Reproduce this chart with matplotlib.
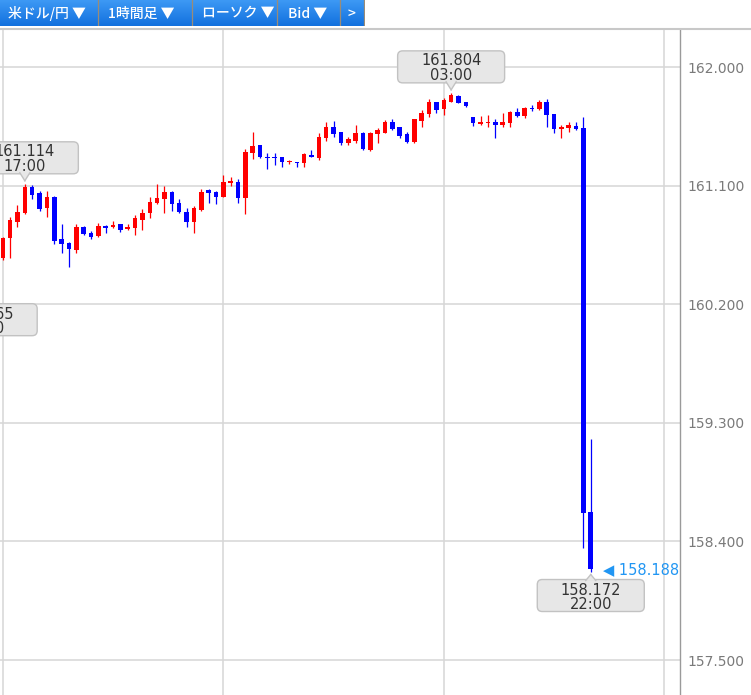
import numpy as np
import matplotlib.pyplot as plt
import matplotlib.transforms as mtransforms
from matplotlib.patches import FancyBboxPatch, Polygon
from matplotlib.lines import Line2D

plt.rcParams['font.family'] = ['DejaVu Sans']

# USD/JPY 1-hour candles (Bid), first candle = 14:00
opens = [160.549, 160.703, 160.826, 160.890, 161.090, 161.042, 160.928, 161.011, 160.693, 160.662,
         160.612, 160.788, 160.738, 160.720, 160.794, 160.788, 160.807, 160.769, 160.776, 160.839,
         160.890, 160.966, 160.996, 161.054, 160.966, 160.898, 160.826, 160.915, 161.067, 161.054,
         161.016, 161.118, 161.130, 161.004, 161.345, 161.405, 161.319, 161.320, 161.315, 161.277,
         161.281, 161.269, 161.335, 161.312, 161.459, 161.542, 161.507, 161.421, 161.441, 161.502,
         161.370, 161.492, 161.502, 161.580, 161.545, 161.492, 161.429, 161.593, 161.643, 161.732,
         161.679, 161.737, 161.780, 161.732, 161.621, 161.565, 161.573, 161.585, 161.560, 161.577,
         161.661, 161.628, 161.691, 161.681, 161.732, 161.641, 161.530, 161.535, 161.552, 161.535,
         158.626]
highs = [160.712, 160.864, 160.953, 161.114, 161.105, 161.059, 161.059, 161.021, 160.809, 160.675,
         160.809, 160.794, 160.756, 160.814, 160.801, 160.832, 160.809, 160.809, 160.877, 160.920,
         161.016, 161.110, 161.100, 161.059, 160.998, 160.932, 160.945, 161.072, 161.074, 161.056,
         161.181, 161.168, 161.150, 161.376, 161.505, 161.410, 161.345, 161.345, 161.318, 161.294,
         161.283, 161.345, 161.370, 161.502, 161.585, 161.590, 161.509, 161.471, 161.560, 161.509,
         161.507, 161.535, 161.598, 161.603, 161.547, 161.509, 161.605, 161.674, 161.755, 161.737,
         161.763, 161.804, 161.788, 161.737, 161.623, 161.628, 161.636, 161.603, 161.653, 161.666,
         161.687, 161.694, 161.712, 161.750, 161.757, 161.643, 161.560, 161.580, 161.585, 161.618,
         159.175]
lows = [160.536, 160.549, 160.784, 160.885, 160.998, 160.910, 160.860, 160.657, 160.586, 160.485,
        160.591, 160.725, 160.695, 160.712, 160.743, 160.776, 160.750, 160.763, 160.725, 160.763,
        160.857, 160.961, 160.895, 160.910, 160.895, 160.788, 160.738, 160.910, 160.970, 160.961,
        161.011, 161.097, 160.970, 160.885, 161.300, 161.312, 161.226, 161.256, 161.244, 161.264,
        161.244, 161.244, 161.317, 161.294, 161.441, 161.471, 161.408, 161.408, 161.421, 161.370,
        161.363, 161.421, 161.497, 161.522, 161.459, 161.426, 161.421, 161.547, 161.623, 161.649,
        161.636, 161.735, 161.725, 161.699, 161.552, 161.560, 161.547, 161.464, 161.547, 161.542,
        161.623, 161.611, 161.666, 161.674, 161.542, 161.502, 161.464, 161.509, 161.525, 158.348,
        158.172]
closes = [160.700, 160.839, 160.898, 161.092, 161.029, 160.923, 161.011, 160.682, 160.657, 160.617,
          160.784, 160.733, 160.712, 160.796, 160.776, 160.803, 160.763, 160.784, 160.852, 160.895,
          160.978, 161.004, 161.054, 160.958, 160.902, 160.826, 160.932, 161.054, 161.046, 161.016,
          161.130, 161.135, 161.004, 161.357, 161.403, 161.319, 161.307, 161.308, 161.277, 161.289,
          161.269, 161.338, 161.319, 161.471, 161.542, 161.492, 161.421, 161.454, 161.497, 161.376,
          161.502, 161.522, 161.585, 161.530, 161.479, 161.433, 161.603, 161.649, 161.737, 161.674,
          161.750, 161.788, 161.729, 161.704, 161.573, 161.585, 161.585, 161.560, 161.585, 161.661,
          161.628, 161.687, 161.679, 161.737, 161.636, 161.527, 161.547, 161.560, 161.527, 158.614,
          158.188]

yticks = [157.5, 158.4, 159.3, 160.2, 161.1, 162.0]
vgrid = [0, 30, 60, 90]

# high / low callouts (candle position, price, hour)
call_idx = [3, 61, 80, -2.6]
call_price = [161.114, 161.804, 158.172, 160.265]
call_time = ["17:00", "03:00", "22:00", "11:00"]
call_above = [True, True, False, False]

last_price = 158.188

menu_items = ["米ドル/円 ▼", "1時間足 ▼", "ローソク ▼", "Bid ▼", ">"]
menu_x = [8, 108, 202, 288, 347]
menu_sep = [98, 192, 277, 340, 364]

W, H = 751, 695
fig = plt.figure(figsize=(W / 100, H / 100), dpi=100)

# chart area
ax = fig.add_axes([0, 0, 680 / W, (H - 30) / H])
o = np.array(opens); c = np.array(closes)
x = np.arange(len(o))
cols = np.where(c >= o, '#ff0000', '#0000ff')
ax.vlines(x, lows, highs, colors=cols, lw=0.9, zorder=3)
bottom = np.minimum(o, c)
height = np.maximum(np.abs(c - o), 0.012)
ax.bar(x, height, bottom=bottom, width=0.62, color=cols, lw=0, zorder=4)

ax.set_xlim(-0.38, 92.14)
ax.set_ylim(157.235, 162.281)
ax.set_xticks(vgrid)
ax.set_xticklabels([])
ax.yaxis.tick_right()
ax.set_yticks(yticks)
ax.set_yticklabels([f"{v:.3f}" for v in yticks])
ax.tick_params(axis='y', length=0, pad=5.5, labelsize=10, labelcolor='#7a7a7a')
ax.tick_params(axis='x', length=0)
ax.grid(True, color='#d6d6d6', lw=1.1, zorder=0)
for s in ['left', 'top', 'bottom']:
    ax.spines[s].set_visible(False)
ax.spines['right'].set_color('#9a9a9a')
ax.spines['right'].set_linewidth(1.0)


def callout(xi, price, label, time, above):
    tr = mtransforms.Affine2D() + mtransforms.ScaledTranslation(xi, price, ax.transData)
    bw, bh = 107, 32
    if above:
        b0 = 10
        tri = [(-5, b0 + 1), (5, b0 + 1), (0, 3)]
        l1, l2 = b0 + bh - 10, b0 + bh - 25
    else:
        b0 = -8 - bh
        tri = [(-5, -9), (5, -9), (0, -3)]
        l1, l2 = -8 - 10.5, -8 - 24.5
    box = FancyBboxPatch((-bw / 2, b0), bw, bh, boxstyle='round,pad=0,rounding_size=5',
                         transform=tr, fc='#e7e7e7', ec='#c2c2c2', lw=1.0,
                         clip_on=False, zorder=6)
    ax.add_patch(box)
    ax.add_patch(Polygon(tri, closed=True, transform=tr, fc='#e7e7e7', ec='none',
                         clip_on=False, zorder=7))
    for p in (tri[0], tri[1]):
        ax.add_line(Line2D([p[0], tri[2][0]], [p[1], tri[2][1]], transform=tr,
                           color='#c2c2c2', lw=1.0, clip_on=False, zorder=7))
    ax.text(0, l1, label, transform=tr, ha='center', va='center', fontsize=10.5,
            color='#333333', zorder=8, clip_on=False)
    ax.text(0, l2, time, transform=tr, ha='center', va='center', fontsize=10.5,
            color='#333333', zorder=8, clip_on=False)


for xi, pr, tm, ab in zip(call_idx, call_price, call_time, call_above):
    callout(xi, pr, f"{pr:.3f}", tm, ab)

ax.annotate(f"◀ {last_price:.3f}", xy=(len(o) - 1, last_price), xytext=(12, 0),
            textcoords='offset pixels', ha='left', va='center', fontsize=10.5,
            color='#2196f3', annotation_clip=False, zorder=8)

# separator line under the menu bar
fig.add_artist(Line2D([0, 1], [1 - 29 / H, 1 - 29 / H], transform=fig.transFigure,
                      color='#c8c8c8', lw=1.5))

# menu bar
mb = fig.add_axes([0, 1 - 26 / H, 365 / W, 26 / H])
grad = np.linspace(0, 1, 50).reshape(-1, 1)
top_c = np.array([0.24, 0.60, 0.96])
bot_c = np.array([0.07, 0.44, 0.87])
img = top_c + (bot_c - top_c) * grad[:, :, None]
mb.imshow(img, extent=[0, 365, 26, 0], aspect='auto')
mb.set_xlim(0, 365)
mb.set_ylim(26, 0)
mb.axis('off')
for sx in menu_sep:
    mb.axvline(sx, color='#9a8c78', lw=0.9)
for tx, t in zip(menu_x, menu_items):
    mb.text(tx, 13.5, t, ha='left', va='center', color='white', fontsize=10,
            fontweight='medium', family=['Noto Sans CJK JP', 'DejaVu Sans'])

fig.savefig('out.png', dpi=100)
